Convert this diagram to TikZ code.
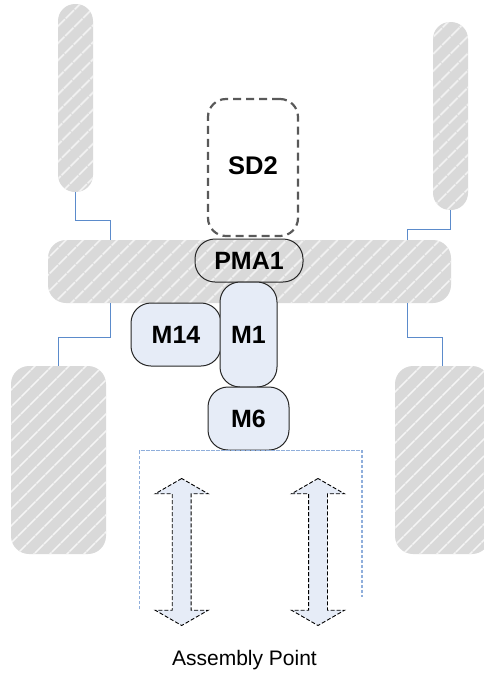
\documentclass[tikz,border=0pt]{standalone}
\usepackage{xcolor}
\usepackage{fontspec}
\setmainfont{Liberation Sans}
\usetikzlibrary{shapes.arrows,patterns.meta}
\definecolor{hatchgray}{HTML}{D9D9D9}
\definecolor{modblue}{HTML}{E6ECF7}
\definecolor{wireblue}{HTML}{5B8BCB}
\definecolor{boxblue}{HTML}{8FAEDB}
\tikzset{
  hatched/.style={rounded corners=#1,inner sep=0pt,fill=hatchgray,
    postaction={pattern={Lines[angle=45,distance=13pt,line width=1.6pt]},pattern color=hatchgray!25!white}},
  module/.style={draw=black!85,line width=1pt,rounded corners=20pt,inner sep=0pt,fill=modblue,font=\bfseries\fontsize{25}{25}\selectfont},
  wire/.style={wireblue,line width=1pt},
  slide/.style={double arrow,draw=black,line width=0.9pt,dash pattern=on 4pt off 2pt,fill=modblue,inner sep=9pt,
    double arrow head extend=17pt,double arrow tip angle=120,minimum width=52pt,minimum height=147pt,rotate=90}
}
\begin{document}
\begin{tikzpicture}[x=1pt,y=-1pt]
\useasboundingbox (0,0) rectangle (483,673);
\node (wtl) at (75.5,98) [hatched=17pt,minimum width=35pt,minimum height=188pt] {};
\node (wtr) at (450.5,116) [hatched=17pt,minimum width=35pt,minimum height=188pt] {};
\node (wbl) at (58.5,460) [hatched=18pt,minimum width=95pt,minimum height=188pt] {};
\node (wbr) at (442.5,460) [hatched=18pt,minimum width=95pt,minimum height=188pt] {};
\node (bar) at (249.5,271.5) [hatched=18pt,minimum width=403pt,minimum height=63pt] {};
%
\draw [wire] (wtl.south) -- ++(0,28) -| ([xshift=-139.5pt]bar.north);
\draw [wire] (wtr.south) -- ++(0,19) -| ([xshift=157.5pt]bar.north);
\draw [wire] (wbl.north) -- ++(0,-28) -| ([xshift=-139.5pt]bar.south);
\draw [wire] (wbr.north) -- ++(0,-28) -| ([xshift=157.5pt]bar.south);
%%
\node (sd2) at (253,167.5) [draw=black!65,line width=2.2pt,dash pattern=on 8pt off 5pt,rounded corners=18pt,inner sep=0pt,minimum width=90pt,minimum height=137pt,text depth=4pt,font=\bfseries\fontsize{25.5}{25.5}\selectfont] {SD2};
\node (pma1) at (249,260.5) [module,fill=none,minimum width=108pt,minimum height=43pt] {PMA1};
\node (m14) at (176,334.5) [module,minimum width=90pt,minimum height=63pt] {M14};
\node (m1) at (248.5,334.5) [module,minimum width=57pt,minimum height=105pt] {M1};
\node (m6) at (248.5,418.5) [module,minimum width=81pt,minimum height=63pt] {M6};
%%
\coordinate (bl) at (139.5,609);
\coordinate (br) at (362,597);
\draw [boxblue,line width=1.1pt,dash pattern=on 3.5pt off 1.5pt] (bl) |- (br |- m6.south) -- (br);
%%
\node (al) at (181.7,552) [slide] {};
\node (ar) at (318,552) [slide] {};
%%
\node (ap) at (244.5,660) [font=\fontsize{21}{21}\selectfont] {Assembly Point};
\end{tikzpicture}
\end{document}
